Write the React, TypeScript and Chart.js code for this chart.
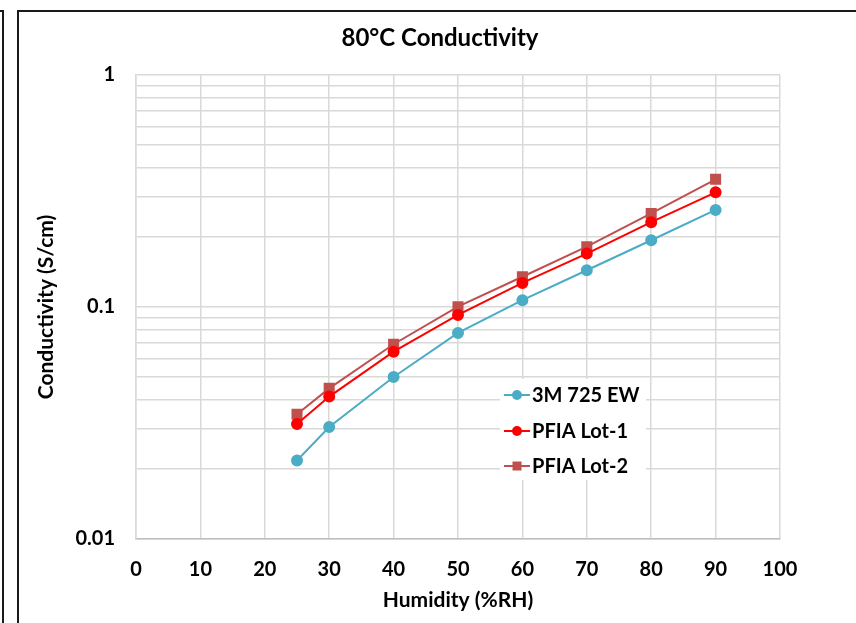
import React, { useEffect, useRef } from "react";
import { Chart, registerables } from "chart.js";

Chart.register(...registerables);

const humidity = [25, 30, 40, 50, 60, 70, 80, 90];
const seriesNames = ["3M 725 EW", "PFIA Lot-1", "PFIA Lot-2"];
const ew725 = [0.0218, 0.0304, 0.0499, 0.0773, 0.107, 0.144, 0.194, 0.262];
const lot1 = [0.0313, 0.0411, 0.0642, 0.0924, 0.127, 0.17, 0.232, 0.312];
const lot2 = [0.0345, 0.0446, 0.0691, 0.1003, 0.135, 0.182, 0.253, 0.355];
const seriesColors = ["#4bacc6", "#ff0000", "#c0504d"];
const seriesMarkers = ["circle", "circle", "rect"];
const yMajorTicks = [0.01, 0.1, 1];
const xTickLabels = [0, 10, 20, 30, 40, 50, 60, 70, 80, 90, 100];
const chartTitle = "80°C Conductivity";

const FONT = "Lato, 'Open Sans', sans-serif";

const titlePlugin = {
  id: "centeredTitle",
  afterDraw(chart: any) {
    const ctx = chart.ctx;
    ctx.save();
    ctx.fillStyle = "#000000";
    ctx.font = `bold 24px ${FONT}`;
    ctx.textAlign = "center";
    ctx.textBaseline = "middle";
    ctx.fillText(chartTitle, 440, 38);
    ctx.restore();
  },
};

const legendPlugin = {
  id: "insideLegend",
  afterDatasetsDraw(chart: any) {
    const ctx = chart.ctx;
    ctx.save();
    ctx.fillStyle = "#ffffff";
    ctx.fillRect(500, 379, 146, 101);
    const rows = [395, 431, 466];
    chart.data.datasets.forEach((ds: any, i: number) => {
      const y = rows[i];
      ctx.strokeStyle = ds.borderColor;
      ctx.lineWidth = 2;
      ctx.beginPath();
      ctx.moveTo(504, y);
      ctx.lineTo(530, y);
      ctx.stroke();
      ctx.fillStyle = ds.pointBackgroundColor;
      if (ds.pointStyle === "rect") {
        ctx.fillRect(517 - 4.5, y - 4.5, 9, 9);
      } else {
        ctx.beginPath();
        ctx.arc(517, y, 5, 0, Math.PI * 2);
        ctx.fill();
      }
      ctx.fillStyle = "#000000";
      ctx.font = `bold 20px ${FONT}`;
      ctx.textBaseline = "middle";
      ctx.textAlign = "left";
      ctx.fillText(ds.label, 532, y + 1);
    });
    ctx.restore();
  },
};

export default function App() {
  const ref = useRef<HTMLCanvasElement | null>(null);
  useEffect(() => {
    if (!ref.current) return;
    const values = [ew725, lot1, lot2];
    const chart = new Chart(ref.current, {
      type: "line",
      data: {
        datasets: seriesNames.map((name, i) => ({
          label: name,
          data: humidity.map((h, j) => ({ x: h, y: values[i][j] })),
          borderColor: seriesColors[i],
          backgroundColor: seriesColors[i],
          pointBackgroundColor: seriesColors[i],
          pointBorderColor: seriesColors[i],
          pointStyle: seriesMarkers[i] as any,
          pointRadius: seriesMarkers[i] === "rect" ? 6.4 : 5,
          borderWidth: 2,
          tension: 0,
          fill: false,
        })),
      },
      options: {
        animation: false,
        responsive: false,
        maintainAspectRatio: false,
        layout: { padding: { left: 0, right: 76, top: 75, bottom: 0 } },
        plugins: {
          legend: { display: false },
          tooltip: { enabled: false },
          title: { display: false },
        },
        scales: {
          x: {
            type: "linear",
            min: 0,
            max: 100,
            afterBuildTicks(scale: any) {
              scale.ticks = xTickLabels.map((v) => ({ value: v }));
            },
            afterFit(scale: any) {
              scale.height = 84;
            },
            grid: { color: "#d9d9d9", lineWidth: 1.5, drawTicks: false },
            border: { color: "#bfbfbf", width: 1.5 },
            ticks: {
              color: "#000000",
              padding: 19,
              font: { family: FONT, size: 20, weight: "bold" },
              autoSkip: false,
              maxRotation: 0,
            },
            title: {
              display: true,
              text: "Humidity (%RH)",
              color: "#000000",
              font: { family: FONT, size: 21, weight: "bold" },
              padding: 10,
            },
          },
          y: {
            type: "logarithmic",
            min: 0.01,
            max: 1,
            afterBuildTicks(scale: any) {
              const t: any[] = [];
              for (let e = -2; e <= 0; e++) {
                for (let m = 1; m <= 9; m++) {
                  const v = parseFloat((m * Math.pow(10, e)).toPrecision(3));
                  if (v <= 1) t.push({ value: v, major: m === 1 });
                }
              }
              scale.ticks = t;
            },
            afterFit(scale: any) {
              scale.width = 136;
            },
            grid: { color: "#d9d9d9", lineWidth: 1.5, drawTicks: false },
            border: { color: "#d9d9d9", width: 1.5 },
            ticks: {
              color: "#000000",
              padding: 21,
              autoSkip: false,
              font: { family: FONT, size: 20, weight: "bold" },
              callback(value: any) {
                const v = Number(value);
                const hit = yMajorTicks.find((m) => Math.abs(m - v) < 1e-9);
                return hit !== undefined ? String(hit) : "";
              },
            },
            title: {
              display: true,
              text: "Conductivity (S/cm)",
              color: "#000000",
              font: { family: FONT, size: 21, weight: "bold" },
              padding: { top: 34, bottom: 0 },
            },
          },
        },
      },
      plugins: [legendPlugin, titlePlugin],
    } as any);
    return () => chart.destroy();
  }, []);

  const line = (s: React.CSSProperties) => (
    <div style={{ position: "absolute", background: "#1a1a1a", ...s }} />
  );

  return (
    <div style={{ position: "fixed", left: 0, top: 0, width: 856, height: 623, background: "#ffffff", overflow: "hidden" }}>
      <canvas ref={ref} width={856} height={623} style={{ position: "absolute", left: 0, top: 0, width: 856, height: 623 }} />
      {line({ left: 0, top: 10, width: 4, height: 2 })}
      {line({ left: 2, top: 10, width: 2, height: 613 })}
      {line({ left: 17, top: 10, width: 839, height: 2 })}
      {line({ left: 17, top: 10, width: 2, height: 613 })}
    </div>
  );
}
